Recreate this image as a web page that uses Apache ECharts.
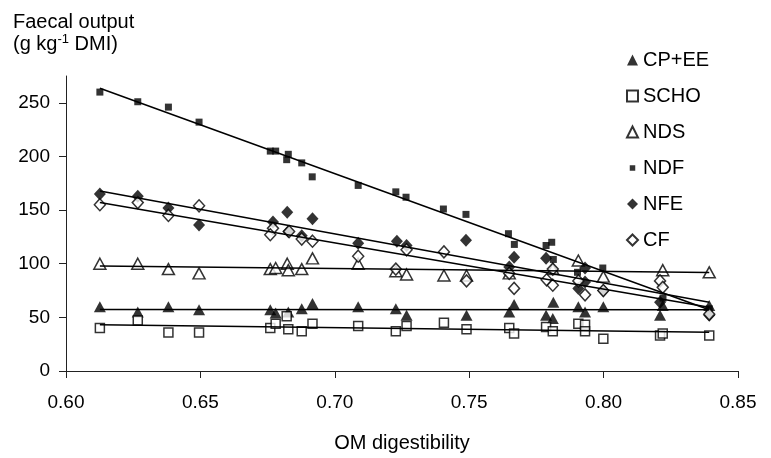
<!DOCTYPE html>
<html>
<head>
<meta charset="utf-8">
<script src="https://cdn.jsdelivr.net/npm/echarts@6/dist/echarts.min.js"></script>
<style>
  html, body { margin: 0; padding: 0; background: #fff; }
  #chart { width: 771px; height: 458px; }
</style>
</head>
<body>
<div id="chart"></div>
<script>
// 坐标轴刻度
const xTicks = [0.60, 0.65, 0.70, 0.75, 0.80, 0.85]
const yTicks = [0, 50, 100, 150, 200, 250]

// 各成分 [OM digestibility, faecal output]
const cpEE = [[0.6126, 60], [0.6267, 55], [0.6381, 60], [0.6495, 57], [0.676, 57], [0.678, 54], [0.6827, 55], [0.6877, 58], [0.6917, 63], [0.7087, 60], [0.7227, 58], [0.7267, 52], [0.749, 52], [0.7649, 55], [0.7667, 62], [0.7786, 52], [0.7811, 49], [0.7813, 64], [0.7906, 60], [0.7931, 55], [0.7999, 60], [0.821, 52], [0.822, 61], [0.8393, 61]]
const scho = [[0.6126, 40], [0.6267, 47], [0.6381, 36], [0.6495, 36], [0.676, 40], [0.678, 44], [0.6821, 51], [0.6827, 39], [0.6877, 37], [0.6917, 44], [0.7087, 42], [0.7227, 37], [0.7267, 42], [0.7406, 45], [0.749, 39], [0.7649, 40], [0.7667, 35], [0.7786, 41], [0.7811, 37], [0.7906, 44], [0.7931, 43], [0.7931, 37], [0.7999, 30], [0.821, 33], [0.822, 35], [0.8393, 33]]
const nds = [[0.6126, 100], [0.6267, 100], [0.6381, 95], [0.6495, 91], [0.676, 95], [0.678, 96], [0.6823, 100], [0.6827, 94], [0.6877, 95], [0.6917, 105], [0.7087, 100], [0.7227, 93], [0.7267, 90], [0.7406, 89], [0.749, 89], [0.7649, 91], [0.7811, 95], [0.7906, 103], [0.7999, 88], [0.822, 94], [0.8393, 92]]
const ndf = [[0.6126, 260], [0.6267, 251], [0.6381, 246], [0.6495, 232], [0.676, 205], [0.678, 205], [0.6821, 197], [0.6827, 202], [0.6877, 194], [0.6916, 181], [0.7087, 173], [0.7227, 167], [0.7265, 162], [0.7404, 151], [0.7488, 146], [0.7646, 128], [0.7668, 118], [0.7786, 117], [0.7807, 120], [0.7813, 104], [0.7903, 92], [0.7997, 96], [0.8221, 68], [0.8393, 58]]
const nfe = [[0.6126, 165], [0.6267, 163], [0.6381, 152], [0.6495, 136], [0.677, 139], [0.6823, 148], [0.6827, 130], [0.6877, 126], [0.6917, 142], [0.7087, 119], [0.7231, 121], [0.7267, 117], [0.7488, 122], [0.7649, 97], [0.7667, 106], [0.7786, 105], [0.7931, 96], [0.7906, 77], [0.7931, 83], [0.7999, 75], [0.821, 64], [0.8393, 52]]
const cf = [[0.6126, 155], [0.6267, 157], [0.6381, 145], [0.6495, 154], [0.677, 133], [0.676, 127], [0.683, 130], [0.6877, 123], [0.6917, 121], [0.7087, 107], [0.7227, 95], [0.7267, 113], [0.7406, 111], [0.749, 84], [0.7649, 91], [0.7667, 77], [0.7788, 85], [0.7811, 80], [0.7811, 95], [0.7906, 84], [0.7931, 71], [0.7999, 75], [0.821, 84], [0.822, 78], [0.8393, 53]]

const font = 'Liberation Sans, Arial, sans-serif'

// 最小二乘拟合，返回两端点
function trend (pts) {
    let n = pts.length, sx = 0, sy = 0, sxx = 0, sxy = 0
    pts.forEach(p => { sx += p[0]; sy += p[1]; sxx += p[0] * p[0]; sxy += p[0] * p[1] })
    let b = (n * sxy - sx * sy) / (n * sxx - sx * sx)
    let a = (sy - b * sx) / n
    let xs = pts.map(p => p[0])
    let x0 = Math.min(...xs), x1 = Math.max(...xs)
    return [[x0, a + b * x0], [x1, a + b * x1]]
}

const open = { color: '#fff', borderColor: '#000', borderWidth: 1.5 }
const filled = { color: '#000' }

// 图例里 NDF 用小一号的方块
const smallRect = 'path://M0,0L0.01,0M12,12L11.99,12M3,3L9,3L9,9L3,9Z'

const groups = [
    { name: 'CP+EE', data: cpEE, symbol: 'triangle', size: [12, 11], style: filled },
    { name: 'SCHO', data: scho, symbol: 'rect', size: 9, style: open },
    { name: 'NDS', data: nds, symbol: 'triangle', size: [12, 11], style: open },
    { name: 'NDF', data: ndf, symbol: 'rect', size: 7, style: filled, icon: smallRect },
    { name: 'NFE', data: nfe, symbol: 'diamond', size: [12, 13], style: filled },
    { name: 'CF', data: cf, symbol: 'diamond', size: [11, 12], style: open }
]

let series = []
groups.forEach(g => {
    series.push({
        name: g.name,
        type: 'scatter',
        data: g.data,
        symbol: g.symbol,
        symbolSize: g.size,
        itemStyle: g.style,
        z: 2
    })
})
groups.forEach(g => {
    series.push({
        name: g.name + ' trend',
        type: 'line',
        data: trend(g.data),
        showSymbol: false,
        symbol: 'none',
        lineStyle: { color: '#000', width: 1.5 },
        silent: true,
        z: 3
    })
})

let myChart = echarts.init(document.getElementById('chart'))
myChart.setOption({
    animation: false,
    textStyle: { fontFamily: font },
    title: {
        left: 8,
        top: 6,
        text: '{a|Faecal output}\n{a|(g kg}{s|-1}{a| DMI)}',
        textStyle: {
            fontWeight: 'normal',
            rich: {
                a: { fontFamily: font, fontSize: 20, fontWeight: 'normal', color: '#000', lineHeight: 22 },
                s: { fontFamily: font, fontSize: 13, fontWeight: 'normal', color: '#000', verticalAlign: 'top', lineHeight: 14 }
            }
        }
    },
    legend: {
        data: groups.map(g => g.icon ? { name: g.name, icon: g.icon } : g.name),
        orient: 'vertical',
        left: 621,
        top: 45,
        itemWidth: 11,
        itemHeight: 11,
        itemGap: 16,
        textStyle: { fontFamily: font, fontSize: 20, color: '#000' }
    },
    grid: { left: 66, right: 33, top: 76, bottom: 85 },
    xAxis: {
        type: 'value',
        min: 0.6,
        max: 0.85,
        interval: 0.05,
        name: 'OM digestibility',
        nameLocation: 'middle',
        nameGap: 62,
        nameTextStyle: { fontFamily: font, fontSize: 20, color: '#000' },
        axisLine: { onZero: false, lineStyle: { color: '#222', width: 1 } },
        axisTick: { inside: false, length: 7, lineStyle: { color: '#222' } },
        axisLabel: {
            fontFamily: font, fontSize: 19, color: '#000', margin: 22,
            formatter: v => v.toFixed(2),
            customValues: xTicks
        },
        splitLine: { show: false }
    },
    yAxis: {
        type: 'value',
        min: 0,
        max: 275,
        interval: 50,
        axisLine: { show: true, lineStyle: { color: '#222', width: 1 } },
        axisTick: { show: true, length: 7, lineStyle: { color: '#222' }, customValues: yTicks },
        axisLabel: { fontFamily: font, fontSize: 19, color: '#000', margin: 16, customValues: yTicks },
        splitLine: { show: false }
    },
    series: series
})
</script>
</body>
</html>
